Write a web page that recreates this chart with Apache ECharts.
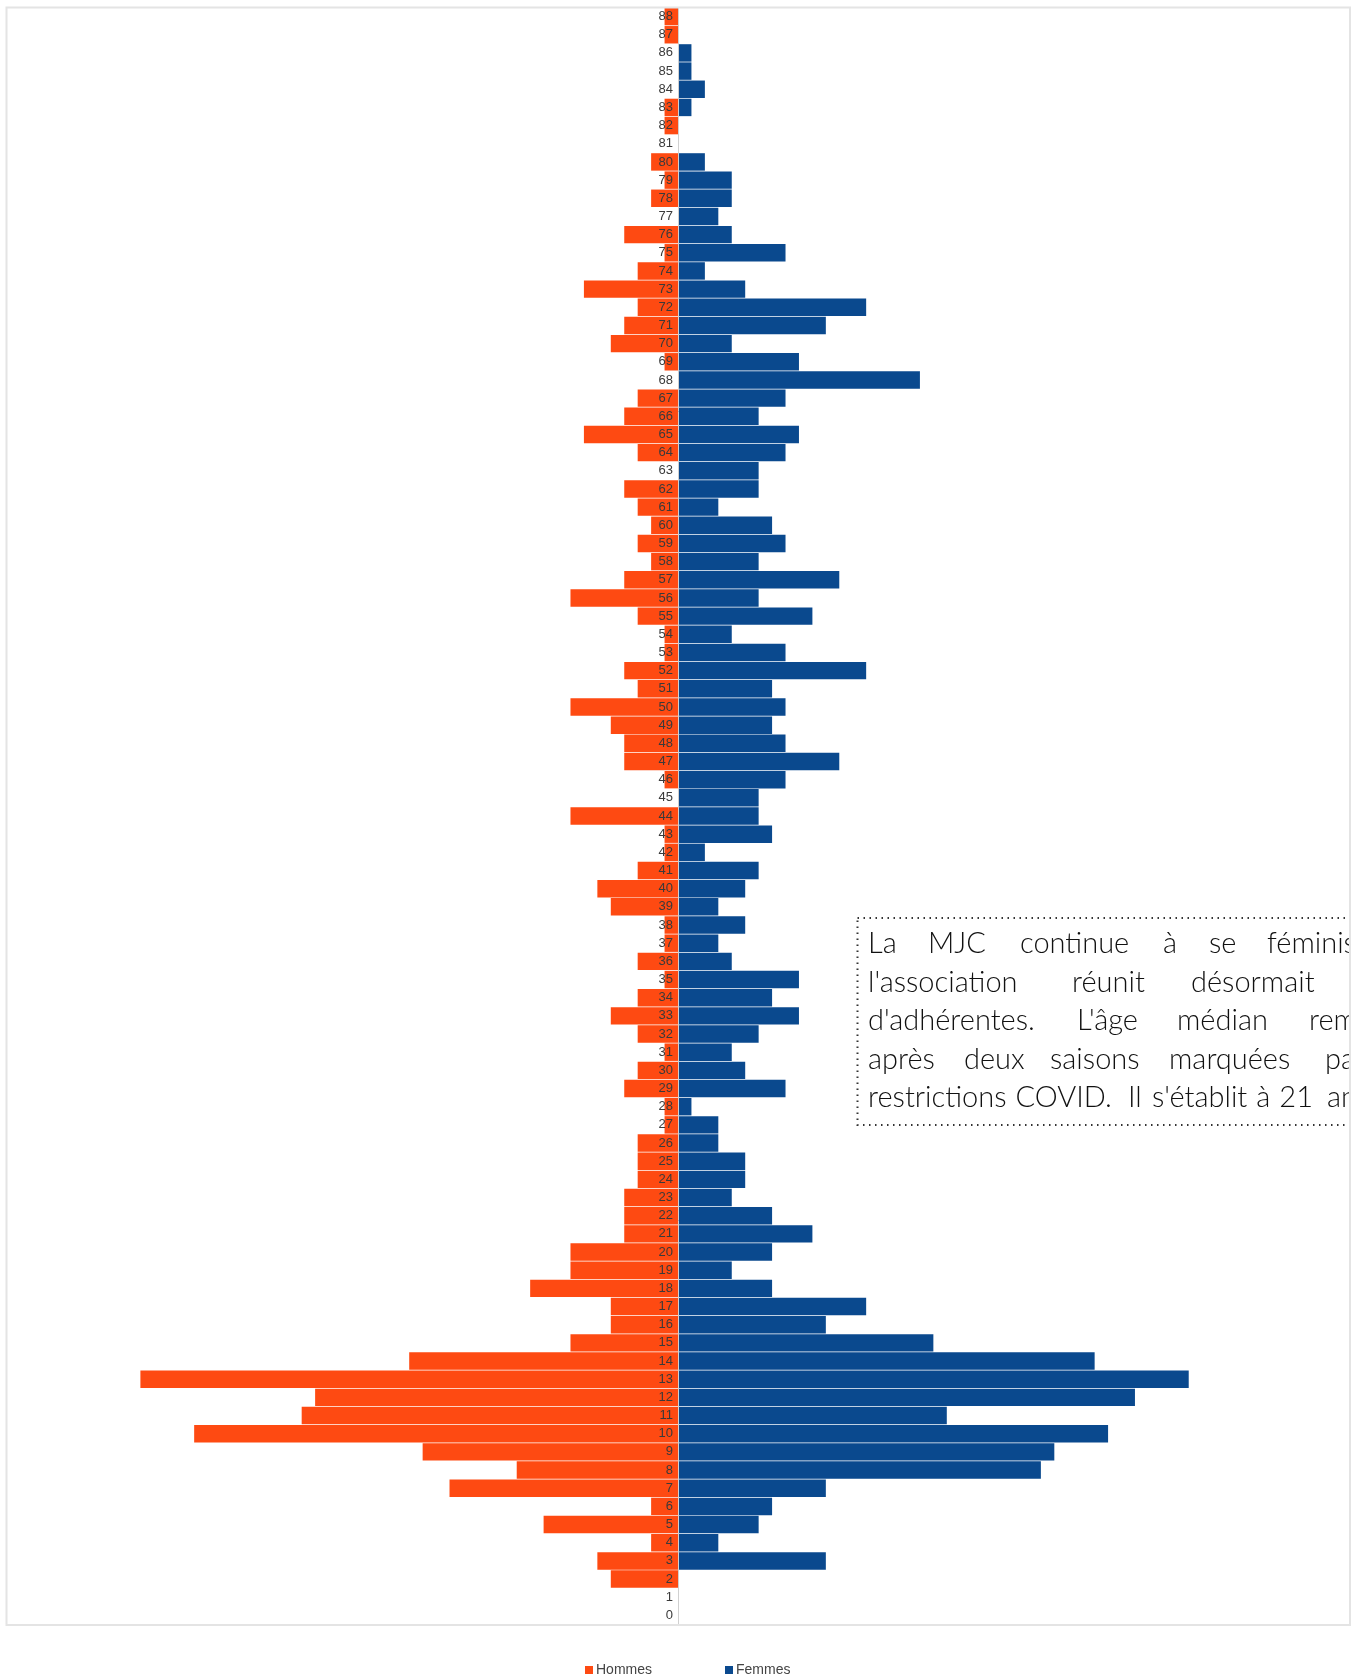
<!DOCTYPE html>
<html><head><meta charset="utf-8">
<script src="https://cdn.jsdelivr.net/npm/echarts@6/dist/echarts.min.js"></script>
<style>html,body{margin:0;padding:0;background:#fff}#c{width:1353px;height:1677px}</style>
</head><body><div id="c"></div>
<script>
const ages = ["0","1","2","3","4","5","6","7","8","9","10","11","12","13","14","15","16","17","18","19","20","21","22","23","24","25","26","27","28","29","30","31","32","33","34","35","36","37","38","39","40","41","42","43","44","45","46","47","48","49","50","51","52","53","54","55","56","57","58","59","60","61","62","63","64","65","66","67","68","69","70","71","72","73","74","75","76","77","78","79","80","81","82","83","84","85","86","87","88"];
const hommes = [0,0,5,6,2,10,2,17,12,19,36,28,27,40,20,8,5,5,11,8,8,4,4,4,3,3,3,1,1,4,3,1,3,5,3,1,3,1,1,5,6,3,1,1,8,0,1,4,4,5,8,3,4,1,1,3,8,4,2,3,2,3,4,0,3,7,4,3,0,1,5,4,3,7,3,1,4,0,2,1,2,0,1,1,0,0,0,1,1];
const femmes = [0,0,0,11,3,6,7,11,27,28,32,20,34,38,31,19,11,14,7,4,7,10,7,4,5,5,3,3,1,8,5,4,6,9,7,9,4,3,5,3,5,6,2,7,6,6,8,12,8,7,8,7,14,8,4,10,6,12,6,8,7,3,6,6,8,9,6,8,18,9,4,11,14,5,2,8,4,3,4,4,2,0,0,1,2,1,1,0,0];
const seriesNames = ["Hommes","Femmes"];
const noteLines = [
  ["La","MJC","continue","à","se","féminiser"],
  ["l'association","réunit","désormait"],
  ["d'adhérentes.","L'âge","médian","remonte"],
  ["après","deux","saisons","marquées","par"],
  ["restrictions","COVID.","Il","s'établit","à","21","ans."]
];
// layout of the annotation (word left positions, line baselines)
const noteWordX = [
  [868,928,1020,1163,1209,1267],
  [868,1072,1191],
  [868,1077,1177,1309],
  [868,964,1050,1169,1325],
  [868,1013,1128,1152,1244,1270,1327]
];
const noteBaselines = [953,991.5,1030,1068.5,1107];

const ORANGE = '#fe4a12', BLUE = '#0a498e';
const NOTE_FONT = '300 29px Lato, "Noto Sans", sans-serif';
const chart = echarts.init(document.getElementById('c'), null, {renderer:'canvas'});

const ctx = document.createElement('canvas').getContext('2d');
ctx.font = NOTE_FONT;
const graphics = [];
noteLines.forEach((words, li) => {
  let prevEnd = -1e9;
  words.forEach((w, wi) => {
    const x = Math.max(noteWordX[li][wi], prevEnd + 9);
    prevEnd = x + ctx.measureText(w).width;
    graphics.push({
      type:'text', z:50, silent:true,
      x: x, y: noteBaselines[li] - 9,
      style:{text:w, fill:'#111', font:NOTE_FONT, textAlign:'left', verticalAlign:'middle'}
    });
  });
});
graphics.push({type:'rect', z:49, silent:true, shape:{x:857.5,y:918,width:560,height:207},
  style:{fill:'#fff', stroke:'#333', lineWidth:2, lineDash:[1.5,4.5]}});
graphics.push({type:'rect', z:60, silent:true, shape:{x:1351,y:0,width:4,height:1677}, style:{fill:'#fff'}});
graphics.push({type:'rect', z:61, silent:true, shape:{x:6.5,y:7.5,width:1343.5,height:1617.5},
  style:{fill:'none', stroke:'#e4e4e4', lineWidth:2}});

chart.setOption({
  animation:false,
  backgroundColor:'#fff',
  grid:{left:6, right:3, top:7.5, bottom:52.5, containLabel:false, outerBoundsMode:'none'},
  xAxis:{type:'value', min:-50, max:50, show:false},
  yAxis:{type:'category', data:ages, z:10, offset:-672,
    axisLine:{show:true, onZero:false, lineStyle:{color:'#d0d0d0', width:1}},
    axisTick:{show:false},
    axisLabel:{margin:5, fontSize:13, color:'#3a3a3a', fontFamily:'"Liberation Sans", Arial, sans-serif', interval:0},
    splitLine:{show:false}},
  legend:{data:seriesNames, left:580, top:1658, itemGap:73, itemWidth:8, itemHeight:8, icon:'rect',
    textStyle:{fontSize:14, color:'#444', fontFamily:'"Liberation Sans", Arial, sans-serif', padding:[0,0,0,-2]}},
  series:[
    {name:seriesNames[0], type:'bar', stack:'pyr', data:hommes.map(v => -v), barCategoryGap:'4%',
      itemStyle:{color:ORANGE}},
    {name:seriesNames[1], type:'bar', stack:'pyr', data:femmes, barCategoryGap:'4%',
      itemStyle:{color:BLUE}}
  ],
  graphic:graphics
});
</script></body></html>
